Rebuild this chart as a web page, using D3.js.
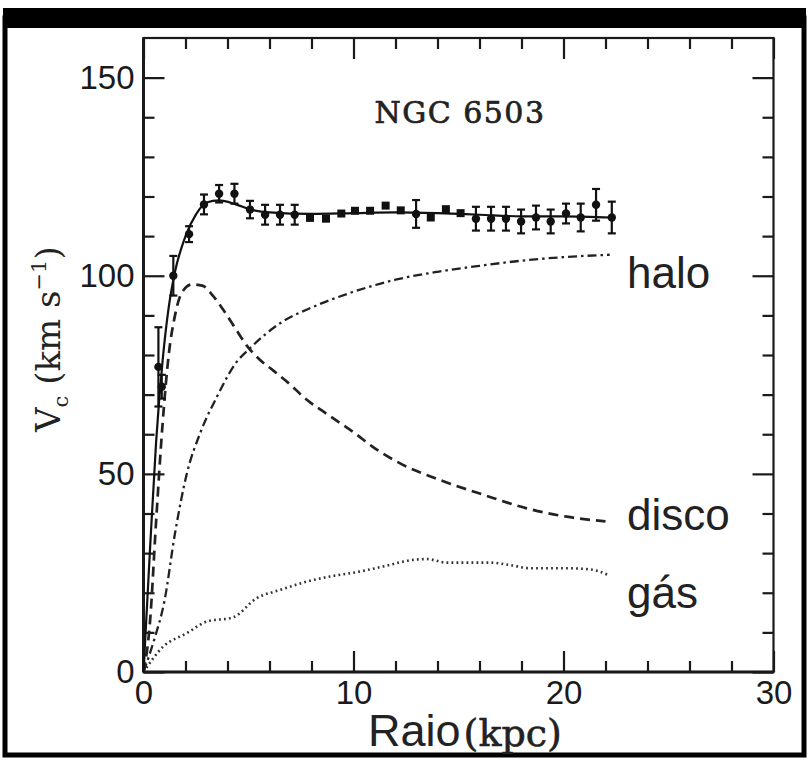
<!DOCTYPE html>
<html><head><meta charset="utf-8">
<script src="https://cdn.jsdelivr.net/npm/d3@7"></script>
<style>
html,body{margin:0;padding:0;background:#fff;}
svg{display:block;}
</style></head>
<body>
<svg id="chart" width="809" height="760"></svg>
<script>
// ---- data ----
const obsR   = [0.71,0.87,1.42,2.17,2.88,3.60,4.33,5.07,5.79,6.50,7.20,7.93,8.69,9.42,10.07,10.79,11.53,12.25,12.98,13.68,14.40,15.10,15.83,16.55,17.26,17.98,18.69,19.39,20.12,20.82,21.55,22.30];
const obsV   = [77.0,72.0,100.0,110.5,118.0,120.7,120.7,116.7,115.4,115.4,115.4,114.6,114.4,115.7,116.4,116.4,117.7,116.5,115.6,114.7,116.8,115.8,114.4,114.4,114.4,113.7,114.7,113.7,115.7,114.7,117.9,114.7];
const obsErr = [10,3,5,2,2.5,2.2,2.5,2.2,2.5,2.5,2.5,0,0,0,0,0,0,0,3.5,0,0,0,3,3,3,3,3,3,2.5,3.5,4,4];

const totalR = [0,0.3,0.6,0.9,1.2,1.5,2.0,2.5,3.0,3.6,4.4,5.1,6.0,8.0,10.0,12.0,14.0,16.0,18.0,20.0,22.3];
const totalV = [0,30,58,78,92,101,110,115.5,118.5,119,118,116.7,116,115.6,115.8,116,115.8,115.4,115,115,114.7];

const diskR = [0,0.3,0.6,0.9,1.2,1.5,1.8,2.3,2.8,3.3,3.8,4.4,4.9,5.5,6.2,7.0,7.6,8.9,10.0,11.0,12.2,14.1,16.2,18.25,20.15,22.0];
const diskV = [0,12,38,62,80,90,95.5,97.8,97.5,95,91.4,86.5,82.5,79,76,72.5,69.5,64.5,60.5,56.5,52.7,48.5,44.7,41.3,39.2,38];

const haloR = [0,0.5,1.0,1.5,2.06,2.7,3.5,4.4,5.07,6.5,8.1,9.8,12.0,14.0,16.0,18.0,20.0,22.2];
const haloV = [0,8,18,35,50,60.3,69.5,78,81.7,88,92.2,95.6,99,101,102.5,103.8,104.7,105.3];

const gasR = [0,0.94,2.06,3.0,4.27,5.38,6.5,7.77,8.88,10.15,11.4,12.85,13.5,14.43,15.2,16.5,17.45,18.4,20.0,21.26,22.13];
const gasV = [0,6.4,9.8,12.7,13.8,18.6,20.7,22.8,24.1,25.2,26.6,28.3,28.5,27.6,27.6,27.6,27.0,26.2,26.2,25.9,24.5];

const xMajor = [0,10,20,30];
const xMinor = [2,4,6,8,12,14,16,18,22,24,26,28];
const yMajor = [0,50,100,150];
const yMinor = [10,20,30,40,60,70,80,90,110,120,130,140];

const title = "NGC 6503";
const compLabels = ["halo","disco","gás"];

// ---- drawing ----
const svg = d3.select("#chart");
const x = d3.scaleLinear().domain([0,30]).range([143.5,773.5]);
const y = d3.scaleLinear().domain([0,160]).range([672,38]);

// outer photo border
svg.append("rect").attr("x",0).attr("y",0).attr("width",809).attr("height",760).attr("fill","#fff");
svg.append("rect").attr("x",5).attr("y",18).attr("width",799).attr("height",737)
  .attr("fill","none").attr("stroke","#000").attr("stroke-width",5);
svg.append("rect").attr("x",3).attr("y",8).attr("width",803).attr("height",20).attr("fill","#000");

const ink = "#1a1a1a";

// frame
svg.append("rect").attr("x",x(0)).attr("y",y(160)).attr("width",x(30)-x(0)).attr("height",y(0)-y(160))
  .attr("fill","none").attr("stroke",ink).attr("stroke-width",2.2);
svg.append("line").attr("x1",x(0)).attr("x2",x(0)).attr("y1",y(160)).attr("y2",y(0))
  .attr("stroke",ink).attr("stroke-width",3);
svg.append("line").attr("x1",x(0)).attr("x2",x(30)).attr("y1",y(0)).attr("y2",y(0))
  .attr("stroke",ink).attr("stroke-width",3);

function axisStyle(g){
  g.select(".domain").remove();
  g.selectAll(".tick line").attr("stroke",ink).attr("stroke-width",2.2);
}
// bottom
svg.append("g").attr("transform",`translate(0,${y(0)})`)
  .call(d3.axisBottom(x).tickValues(xMinor).tickSize(-11).tickFormat("")).call(axisStyle);
svg.append("g").attr("transform",`translate(0,${y(0)})`)
  .call(d3.axisBottom(x).tickValues(xMajor).tickSize(-21).tickPadding(9).tickFormat(d3.format("d")))
  .call(axisStyle)
  .call(g=>g.selectAll("text").attr("font-family","Liberation Sans, Arial, sans-serif").attr("font-size",33).attr("fill",ink));
// top
svg.append("g").attr("transform",`translate(0,${y(160)})`)
  .call(d3.axisTop(x).tickValues(xMinor).tickSize(-11).tickFormat("")).call(axisStyle);
svg.append("g").attr("transform",`translate(0,${y(160)})`)
  .call(d3.axisTop(x).tickValues(xMajor).tickSize(-21).tickFormat("")).call(axisStyle);
// left
svg.append("g").attr("transform",`translate(${x(0)},0)`)
  .call(d3.axisLeft(y).tickValues(yMinor).tickSize(-11).tickFormat("")).call(axisStyle);
svg.append("g").attr("transform",`translate(${x(0)},0)`)
  .call(d3.axisLeft(y).tickValues(yMajor).tickSize(-21).tickPadding(9).tickFormat(d3.format("d")))
  .call(axisStyle)
  .call(g=>g.selectAll("text").attr("font-family","Liberation Sans, Arial, sans-serif").attr("font-size",33).attr("fill",ink));
// right
svg.append("g").attr("transform",`translate(${x(30)},0)`)
  .call(d3.axisRight(y).tickValues(yMinor).tickSize(-11).tickFormat("")).call(axisStyle);
svg.append("g").attr("transform",`translate(${x(30)},0)`)
  .call(d3.axisRight(y).tickValues(yMajor).tickSize(-21).tickFormat("")).call(axisStyle);

// curves
function curve(rs, vs, dash, width, color, cv){
  const pts = rs.map((r,i)=>[r,vs[i]]);
  svg.append("path").datum(pts)
    .attr("d", d3.line().x(d=>x(d[0])).y(d=>y(d[1])).curve(cv||d3.curveMonotoneX))
    .attr("fill","none").attr("stroke",color).attr("stroke-width",width)
    .attr("stroke-dasharray",dash);
}
curve(gasR, gasV, "1.8,3.2", 2.6, "#333");
curve(haloR, haloV, "9,4,2.5,4", 2.3, "#222");
curve(diskR, diskV, "10,6", 2.7, "#222");
curve(totalR, totalV, null, 2.2, "#111");

// observations
const obs = obsR.map((r,i)=>({r, v:obsV[i], e:obsErr[i]}));
const eb = svg.append("g").attr("stroke","#111").attr("stroke-width",2.2);
obs.filter(d=>d.e>0).forEach(d=>{
  eb.append("line").attr("x1",x(d.r)).attr("x2",x(d.r)).attr("y1",y(d.v+d.e)).attr("y2",y(d.v-d.e));
  eb.append("line").attr("x1",x(d.r)-4).attr("x2",x(d.r)+4).attr("y1",y(d.v+d.e)).attr("y2",y(d.v+d.e));
  eb.append("line").attr("x1",x(d.r)-4).attr("x2",x(d.r)+4).attr("y1",y(d.v-d.e)).attr("y2",y(d.v-d.e));
});
svg.append("g").selectAll("circle").data(obs.filter(d=>d.e>0)).join("circle")
  .attr("cx",d=>x(d.r)).attr("cy",d=>y(d.v)).attr("r",4.2).attr("fill","#111");
svg.append("g").selectAll("rect").data(obs.filter(d=>d.e===0)).join("rect")
  .attr("x",d=>x(d.r)-4).attr("y",d=>y(d.v)-4).attr("width",8).attr("height",8).attr("fill","#111");

// title
svg.append("text").attr("x",460).attr("y",123).attr("text-anchor","middle")
  .attr("font-family","DejaVu Serif, serif").attr("font-size",30)
  .attr("stroke","#222").attr("stroke-width",0.7)
  .attr("letter-spacing",1.5).attr("fill","#222").text(title);

// component labels
const lblY = [288, 530, 608];
svg.append("g").selectAll("text").data(compLabels).join("text")
  .attr("x",627).attr("y",(d,i)=>lblY[i])
  .attr("font-family","Liberation Sans, Arial, sans-serif").attr("font-size",44).attr("fill","#222")
  .text(d=>d);

// x axis title
const xt = svg.append("text").attr("x",368).attr("y",746)
  .attr("font-family","Liberation Sans, Arial, sans-serif").attr("fill","#222");
xt.append("tspan").attr("font-size",45).text("Raio");
xt.append("tspan").attr("font-size",38).attr("font-family","DejaVu Serif, serif")
  .attr("stroke","#222").attr("stroke-width",0.6).attr("dx",3).text("(kpc)");

// y axis title
const yt = svg.append("text").attr("transform","translate(60,432) rotate(-90)")
  .attr("font-family","DejaVu Serif, serif").attr("font-size",34).attr("fill","#222");
yt.append("tspan").text("V");
yt.append("tspan").attr("font-size",21).attr("dy",8).text("c");
yt.append("tspan").attr("dy",-8).text(" (km s");
yt.append("tspan").attr("font-size",21).attr("dy",-14).text("−1");
yt.append("tspan").attr("dy",14).text(")");
</script>
</body></html>
